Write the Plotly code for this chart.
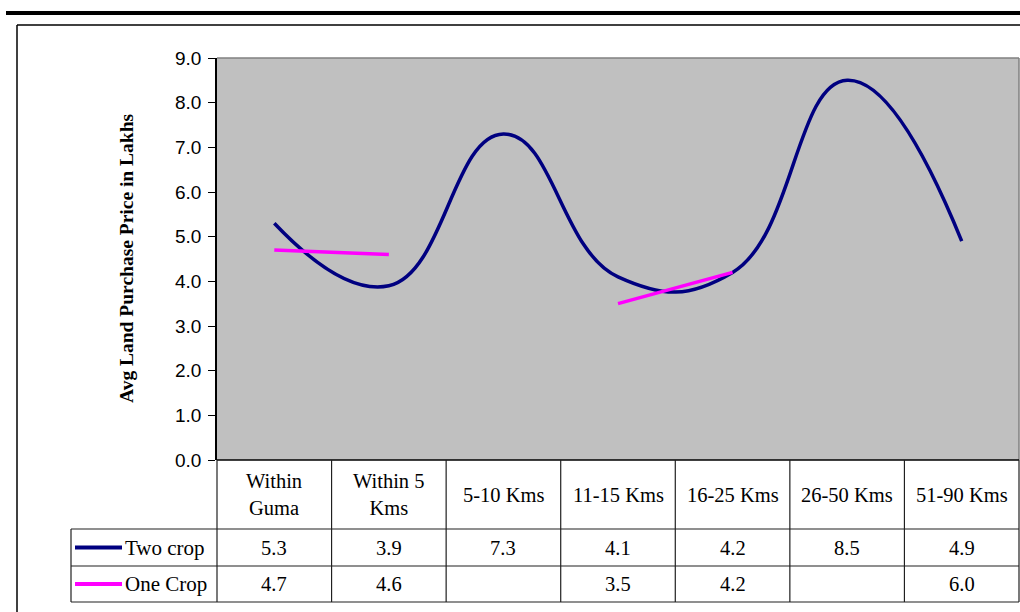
import plotly.graph_objects as go

categories = ["Within<br>Guma", "Within 5<br>Kms", "5-10 Kms", "11-15 Kms", "16-25 Kms", "26-50 Kms", "51-90 Kms"]
two_crop = [5.3, 3.9, 7.3, 4.1, 4.2, 8.5, 4.9]
one_crop = [4.7, 4.6, None, 3.5, 4.2, None, 6.0]
series_names = ["Two crop", "One Crop"]
series_colors = ["#000080", "#FF00FF"]
y_ticks = [0, 1, 2, 3, 4, 5, 6, 7, 8, 9]

W, H = 1020, 612
L, R, T, B = 217, 1019, 58, 460  # plot area in pixels

def px(x):
    return (x - L) / (R - L)

def py(y):
    return (B - y) / (B - T)

xs = list(range(len(categories)))

fig = go.Figure()
for name, vals, col in zip(series_names, [two_crop, one_crop], series_colors):
    fig.add_trace(go.Scatter(
        x=xs, y=vals, mode="lines", name=name,
        line=dict(color=col, width=3.5, shape="spline", smoothing=1.3),
        connectgaps=False, showlegend=False,
    ))

serif = "Liberation Serif"
shapes = []
annotations = []

# page decorations
shapes.append(dict(type="line", xref="paper", yref="paper", x0=px(6), x1=px(1020), y0=py(13), y1=py(13),
                   line=dict(color="black", width=4)))
shapes.append(dict(type="line", xref="paper", yref="paper", x0=px(17), x1=px(1020), y0=py(25), y1=py(25),
                   line=dict(color="black", width=1.5)))
shapes.append(dict(type="line", xref="paper", yref="paper", x0=px(17), x1=px(17), y0=py(25), y1=py(612),
                   line=dict(color="black", width=1.5)))

# plot area border (top/right gray)
shapes.append(dict(type="line", xref="paper", yref="paper", x0=0, x1=1, y0=1, y1=1,
                   line=dict(color="#808080", width=1.5)))
shapes.append(dict(type="line", xref="paper", yref="paper", x0=1, x1=1, y0=0, y1=1,
                   line=dict(color="#808080", width=1.5)))

# table geometry
row_y = [460, 529, 566, 602]
legend_left = 71
tcol = "#202020"
shapes.append(dict(type="line", xref="paper", yref="paper", x0=0, x1=1, y0=py(460), y1=py(460),
                   line=dict(color="black", width=1.5)))
for yy in row_y[1:]:
    shapes.append(dict(type="line", xref="paper", yref="paper", x0=px(legend_left), x1=1, y0=py(yy), y1=py(yy),
                       line=dict(color=tcol, width=1.2)))
n = len(categories)
for i in range(n + 1):
    xx = L + i * (R - L) / n
    shapes.append(dict(type="line", xref="paper", yref="paper", x0=px(xx), x1=px(xx), y0=py(460), y1=py(602),
                       line=dict(color=tcol, width=1.2)))
shapes.append(dict(type="line", xref="paper", yref="paper", x0=px(legend_left), x1=px(legend_left), y0=py(529), y1=py(602),
                   line=dict(color=tcol, width=1.2)))

# header labels
for i, c in enumerate(categories):
    annotations.append(dict(x=i, xref="x", y=py((460 + 529) / 2), yref="paper", text=c, showarrow=False,
                            font=dict(family=serif, size=20.5, color="black"), align="center",
                            xanchor="center", yanchor="middle"))

# data rows
for r, (name, vals, col) in enumerate(zip(series_names, [two_crop, one_crop], series_colors)):
    yc = (row_y[r + 1] + row_y[r + 2]) / 2
    shapes.append(dict(type="line", xref="paper", yref="paper", x0=px(75), x1=px(122), y0=py(yc), y1=py(yc),
                       line=dict(color=col, width=4)))
    annotations.append(dict(x=px(123), xref="paper", y=py(yc), yref="paper", text=name, showarrow=False,
                            font=dict(family=serif, size=21, color="black"), xanchor="left", yanchor="middle"))
    for i, v in enumerate(vals):
        if v is None:
            continue
        annotations.append(dict(x=i, xref="x", y=py(yc), yref="paper", text=f"{v:.1f}", showarrow=False,
                                font=dict(family=serif, size=20.5, color="black"), xanchor="center", yanchor="middle"))

# y-axis title
annotations.append(dict(x=px(126), xref="paper", y=py(258), yref="paper", text="<b>Avg Land Purchase Price in Lakhs</b>",
                        showarrow=False, textangle=-90, font=dict(family=serif, size=19.5, color="black"),
                        xanchor="center", yanchor="middle"))

fig.update_layout(
    width=W, height=H,
    margin=dict(l=L, r=W - R, t=T, b=H - B),
    paper_bgcolor="white", plot_bgcolor="#C0C0C0",
    xaxis=dict(range=[-0.5, n - 0.5], showticklabels=False, showgrid=False, zeroline=False, ticks="",
               fixedrange=True),
    yaxis=dict(range=[0, 9], tickvals=y_ticks, tickformat=".1f", showgrid=False, zeroline=False,
               ticks="outside", ticklen=7, tickcolor="black", showline=True, linecolor="black", linewidth=1.5,
               tickfont=dict(family="Liberation Sans", size=19, color="black"), ticklabelstandoff=3),
    shapes=shapes, annotations=annotations, showlegend=False,
)

fig.write_html("out.html", config={"displayModeBar": False},
               post_script="document.body.style.margin='0px';document.body.style.overflow='hidden';")
